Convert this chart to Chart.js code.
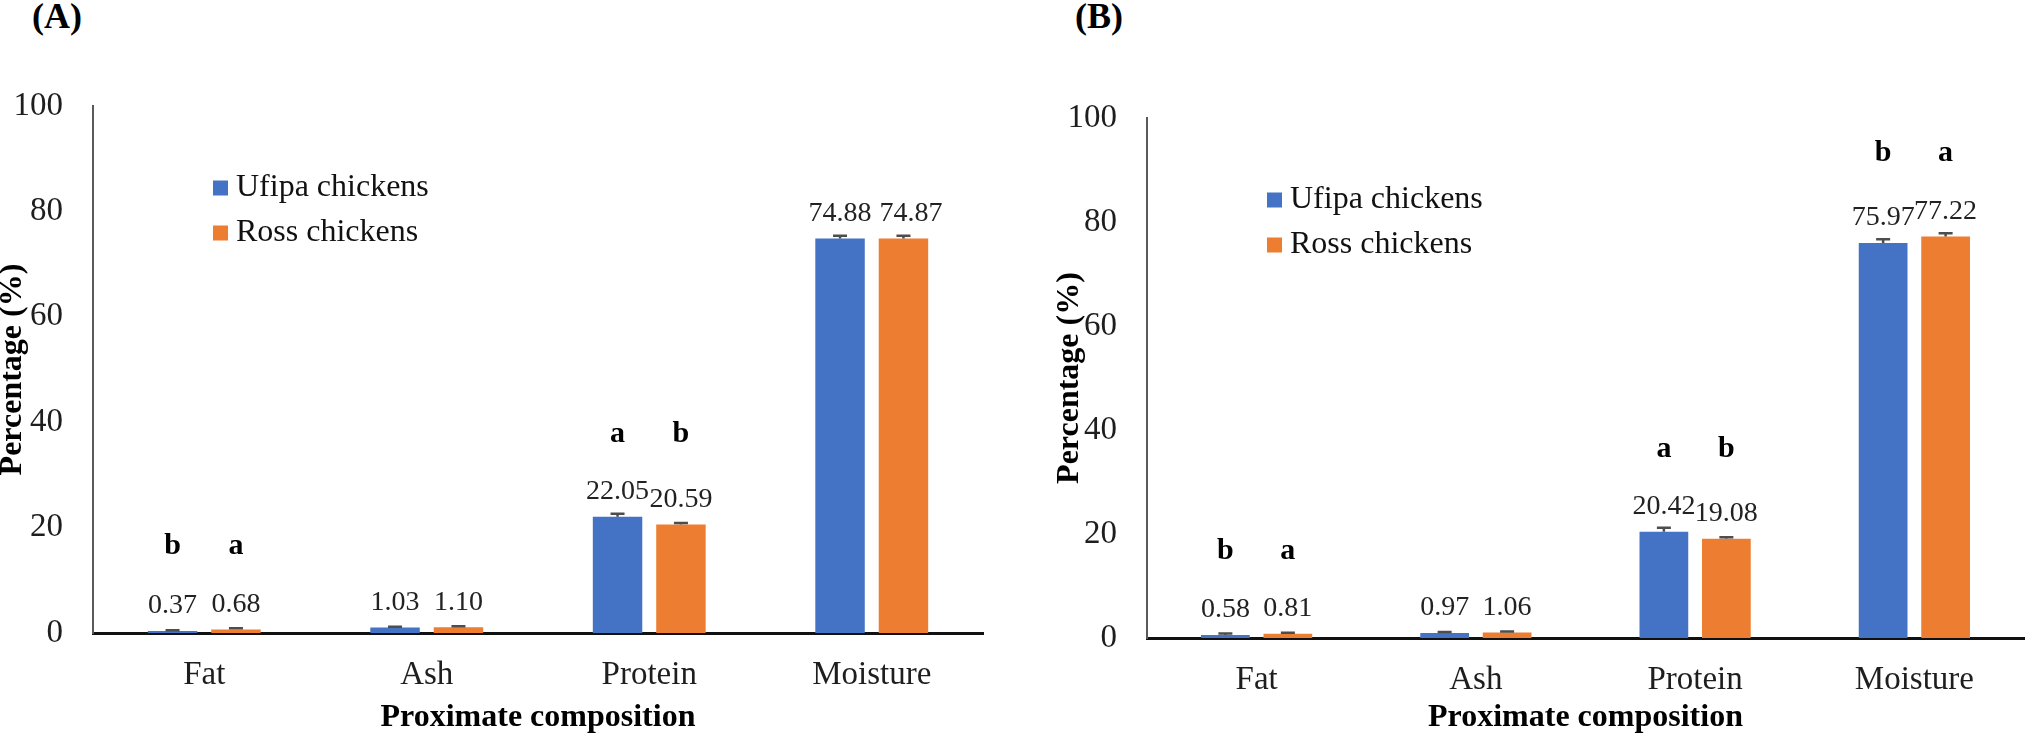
<!DOCTYPE html>
<html><head><meta charset="utf-8">
<script src="https://cdn.jsdelivr.net/npm/chart.js@4.4.0/dist/chart.umd.min.js"></script>
<style>
html,body{margin:0;padding:0;background:#fff;width:2031px;height:741px;overflow:hidden;position:relative;}
canvas{position:absolute;top:0;}
.panel{position:absolute;font-family:"Liberation Serif","Times New Roman",serif;font-weight:bold;font-size:36px;line-height:36px;color:#000;}
</style></head><body>
<div class="panel" style="left:32px;top:-2px;">(A)</div>
<div class="panel" style="left:1075px;top:-2px;">(B)</div>
<canvas id="cA" width="1025" height="741" style="left:-10px"></canvas>
<canvas id="cB" width="1001" height="741" style="left:1030px"></canvas>
<script>
// ---- data ----
const categories = ['Fat', 'Ash', 'Protein', 'Moisture'];
const seriesNames = ['Ufipa chickens', 'Ross chickens'];
const yTicks = [0, 20, 40, 60, 80, 100];

const ufipaA = [0.37, 1.03, 22.05, 74.88];
const rossA  = [0.68, 1.10, 20.59, 74.87];
const ufipaErrA = [0.15, 0.15, 0.6, 0.5];
const rossErrA  = [0.2, 0.2, 0.3, 0.5];
const ufipaLettersA = ['b', '', 'a', ''];
const rossLettersA  = ['a', '', 'b', ''];

const ufipaB = [0.58, 0.97, 20.42, 75.97];
const rossB  = [0.81, 1.06, 19.08, 77.22];
const ufipaErrB = [0.3, 0.2, 0.8, 0.7];
const rossErrB  = [0.2, 0.2, 0.3, 0.6];
const ufipaLettersB = ['b', '', 'a', 'b'];
const rossLettersB  = ['a', '', 'b', 'a'];

const colors = ['#4472C4', '#ED7D31'];
const FONT = '"Liberation Serif", "Times New Roman", serif';
Chart.defaults.font.family = FONT;

const overlay = {
  id: 'overlay',
  afterDatasetsDraw(chart) {
    const ctx = chart.ctx, ys = chart.scales.y;
    const metas = chart.data.datasets.map((d, i) => chart.getDatasetMeta(i));
    const labelFont = '28px ' + FONT;
    // error bars
    chart.data.datasets.forEach((ds, di) => {
      metas[di].data.forEach((bar, i) => {
        const v = ds.data[i], e = ds.errors[i];
        const yT = ys.getPixelForValue(v + e);
        ctx.save();
        ctx.strokeStyle = '#4d4d4d'; ctx.lineWidth = 2.5;
        ctx.beginPath();
        ctx.moveTo(bar.x, bar.y); ctx.lineTo(bar.x, yT);
        ctx.moveTo(bar.x - 7, yT); ctx.lineTo(bar.x + 7, yT);
        ctx.stroke();
        ctx.restore();
      });
    });
    // value labels (nudge apart when two labels sit on the same line and collide)
    categories.forEach((c, i) => {
      ctx.save();
      ctx.font = labelFont;
      ctx.fillStyle = '#222';
      ctx.textAlign = 'center'; ctx.textBaseline = 'middle';
      let prevRight = null, prevY = null;
      chart.data.datasets.forEach((ds, di) => {
        const bar = metas[di].data[i];
        const txt = ds.data[i].toFixed(2);
        const w = ctx.measureText(txt).width;
        let x = bar.x;
        const y = bar.y - 25;
        if (prevRight !== null && Math.abs(y - prevY) < 3 && x - w / 2 < prevRight + 8) {
          x = prevRight + 8 + w / 2;
        }
        ctx.fillText(txt, x, y);
        prevRight = x + w / 2; prevY = y;
      });
      ctx.restore();
    });
    // significance letters
    categories.forEach((c, i) => {
      const top = Math.min(...metas.map(m => m.data[i].y));
      chart.data.datasets.forEach((ds, di) => {
        const L = ds.letters[i];
        if (!L) return;
        ctx.save();
        ctx.fillStyle = '#000';
        ctx.font = 'bold 30px ' + FONT;
        ctx.textAlign = 'center'; ctx.textBaseline = 'middle';
        ctx.fillText(L, metas[di].data[i].x, top - 25 - 58);
        ctx.restore();
      });
    });
    // legend
    const ca = chart.chartArea;
    chart.data.datasets.forEach((ds, di) => {
      const cy = ca.top + 82 + di * 45;
      const sx = ca.left + 120;
      ctx.save();
      ctx.fillStyle = ds.backgroundColor;
      ctx.fillRect(sx, cy - 7.5, 15, 15);
      ctx.fillStyle = '#111';
      ctx.font = '32px ' + FONT;
      ctx.textAlign = 'left'; ctx.textBaseline = 'middle';
      ctx.fillText(ds.label, sx + 23, cy);
      ctx.restore();
    });
  }
};

function makeChart(id, u, r, ue, re, ul, rl, pad, yWidth, xHeight, yTitlePad) {
  return new Chart(document.getElementById(id), {
    type: 'bar',
    data: {
      labels: categories,
      datasets: [
        { label: seriesNames[0], data: u, errors: ue, letters: ul, backgroundColor: colors[0] },
        { label: seriesNames[1], data: r, errors: re, letters: rl, backgroundColor: colors[1] }
      ]
    },
    options: {
      responsive: false, animation: false, devicePixelRatio: 1,
      categoryPercentage: 0.57, barPercentage: 0.78,
      layout: { padding: pad },
      plugins: { legend: { display: false }, tooltip: { enabled: false }, title: { display: false } },
      scales: {
        x: {
          grid: { display: false, drawTicks: false },
          border: { display: true, color: '#111', width: 3 },
          ticks: { color: '#1e1e1e', font: { size: 33 }, padding: 23, maxRotation: 0 },
          title: { display: true, text: 'Proximate composition', color: '#000', font: { size: 32, weight: 'bold' }, padding: { top: 0, bottom: 4 } },
          afterFit: s => { s.height = xHeight; }
        },
        y: {
          min: 0, max: 100,
          afterBuildTicks: s => { s.ticks = yTicks.map(v => ({ value: v })); },
          grid: { display: false, drawTicks: false },
          border: { display: true, color: '#595959', width: 2 },
          ticks: { color: '#1e1e1e', font: { size: 33 }, padding: 30 },
          title: { display: true, text: 'Percentage (%)', color: '#000', font: { size: 32, weight: 'bold' }, padding: { top: yTitlePad, bottom: 0 } },
          afterFit: s => { s.width = yWidth; }
        }
      }
    },
    plugins: [overlay]
  });
}

makeChart('cA', ufipaA, rossA, ufipaErrA, rossErrA, ufipaLettersA, rossLettersA,
  { left: 0, top: 106, right: 32, bottom: 0 }, 103, 108, 4);
makeChart('cB', ufipaB, rossB, ufipaErrB, rossErrB, ufipaLettersB, rossLettersB,
  { left: 0, top: 118, right: 7, bottom: 0 }, 117, 103, 21);
</script>
</body></html>
